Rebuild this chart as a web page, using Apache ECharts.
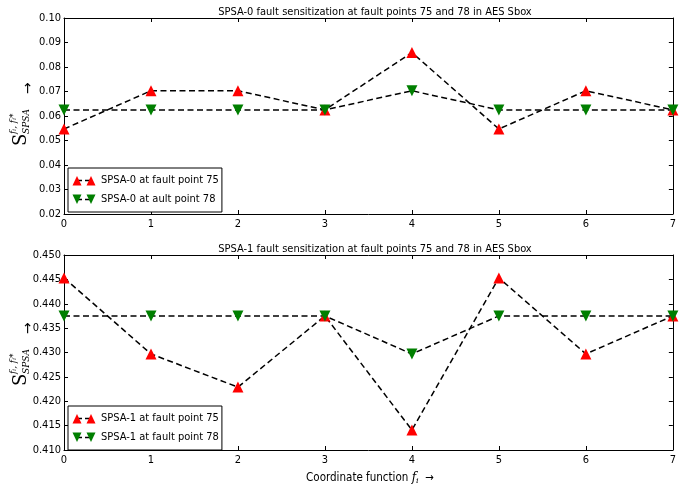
<!DOCTYPE html>
<html>
<head>
<meta charset="utf-8">
<script src="https://cdn.jsdelivr.net/npm/echarts@6/dist/echarts.min.js"></script>
<style>
  html, body { margin: 0; padding: 0; background: #fff; }
  #chart { width: 679px; height: 490px; }
</style>
</head>
<body>
<div id="chart"></div>
<script>
const font = '"DejaVu Sans Condensed", "DejaVu Sans", sans-serif'

// coordinate functions f_i
const coords = [0, 1, 2, 3, 4, 5, 6, 7]

// SPSA-0 (top plot)
const spsa0Fault75 = [0.0547, 0.0703, 0.0703, 0.0625, 0.0859, 0.0547, 0.0703, 0.0625]
const spsa0Fault78 = [0.0625, 0.0625, 0.0625, 0.0625, 0.0703, 0.0625, 0.0625, 0.0625]

// SPSA-1 (bottom plot)
const spsa1Fault75 = [0.4453, 0.4297, 0.4229, 0.4375, 0.4141, 0.4453, 0.4297, 0.4375]
const spsa1Fault78 = [0.4375, 0.4375, 0.4375, 0.4375, 0.4297, 0.4375, 0.4375, 0.4375]

const titles = [
  'SPSA-0 fault sensitization at fault points 75 and 78 in AES Sbox',
  'SPSA-1 fault sensitization at fault points 75 and 78 in AES Sbox'
]
const legendNames = [
  ['SPSA-0 at fault point 75', 'SPSA-0 at ault point 78'],
  ['SPSA-1 at fault point 75', 'SPSA-1 at fault point 78']
]

const pairs = vals => coords.map((x, i) => [x, vals[i]])

// legend key like matplotlib's: marker, dashed line, marker
function legendIcon(color, up) {
  const tri = cx => up
    ? `<polygon points='${cx - 4.5},10.5 ${cx},1 ${cx + 4.5},10.5' fill='${color}'/>`
    : `<polygon points='${cx - 4.5},0.5 ${cx},10 ${cx + 4.5},0.5' fill='${color}'/>`
  const svg = `<svg xmlns='http://www.w3.org/2000/svg' width='24' height='11'>` +
    `<line x1='5' y1='5.5' x2='19' y2='5.5' stroke='black' stroke-width='1.5' stroke-dasharray='5,3'/>` +
    tri(5) + tri(19) + `</svg>`
  return 'image://data:image/svg+xml;charset=utf-8,' + encodeURIComponent(svg)
}

const chart = echarts.init(document.getElementById('chart'))

const tick = { show: true, inside: true, length: 4, lineStyle: { color: '#000' } }
const line = { show: true, onZero: false, lineStyle: { color: '#000', width: 1 } }
const label = { color: '#000', fontSize: 11, fontFamily: font }

function xAxes(g) {
  return [
    {
      type: 'value', gridIndex: g, min: 0, max: 7, interval: 1, position: 'bottom',
      axisLine: line, axisTick: tick, splitLine: { show: false },
      axisLabel: Object.assign({ margin: 5 }, label)
    },
    {
      type: 'value', gridIndex: g, min: 0, max: 7, interval: 1, position: 'top',
      axisLine: line, axisTick: tick, splitLine: { show: false }, axisLabel: { show: false }
    }
  ]
}

function yAxes(g, min, max, step, digits) {
  return [
    {
      type: 'value', gridIndex: g, min: min, max: max, interval: step, position: 'left',
      axisLine: line, axisTick: tick, splitLine: { show: false },
      axisLabel: Object.assign({ margin: 3, formatter: v => v.toFixed(digits) }, label)
    },
    {
      type: 'value', gridIndex: g, min: min, max: max, interval: step, position: 'right',
      axisLine: line, axisTick: tick, splitLine: { show: false }, axisLabel: { show: false }
    }
  ]
}

function series(name, vals, xi, yi, color, up) {
  return {
    name: name, type: 'line', xAxisIndex: xi, yAxisIndex: yi,
    data: pairs(vals),
    symbol: 'triangle', symbolSize: 11, symbolRotate: up ? 0 : 180,
    itemStyle: { color: color, borderColor: color, borderWidth: 0 },
    lineStyle: { color: '#000', width: 1.5, type: [6, 3.5] },
    animation: false
  }
}

function legend(names, top) {
  return {
    data: [
      { name: names[0], icon: legendIcon('#ff0000', true) },
      { name: names[1], icon: legendIcon('#007f00', false) }
    ],
    orient: 'vertical', left: 68, top: top,
    itemWidth: 24, itemHeight: 11, itemGap: 8,
    padding: [7, 3, 7, 4],
    borderColor: '#000', borderWidth: 1, backgroundColor: '#fff',
    textStyle: { color: '#000', fontSize: 11, fontFamily: font }
  }
}

function yLabel(x, y) {
  return {
    type: 'group', x: x, y: y, rotation: Math.PI / 2,
    children: [
      { type: 'text', style: { text: 'S', x: 0, y: 0, font: '18px "DejaVu Serif", serif', fill: '#000', textVerticalAlign: 'middle' } },
      { type: 'text', style: { text: 'f\u1d62, f\u1d62*', x: 12, y: -7, font: 'italic 9px "DejaVu Serif", serif', fill: '#000', textVerticalAlign: 'middle' } },
      { type: 'text', style: { text: 'SPSA', x: 12, y: 6, font: 'italic 9px "DejaVu Serif", serif', fill: '#000', textVerticalAlign: 'middle' } },
      { type: 'text', style: { text: '\u2192', x: 52, y: 7, font: '14px "DejaVu Sans", sans-serif', fill: '#000', textVerticalAlign: 'middle' } }
    ]
  }
}

chart.setOption({
  backgroundColor: '#fff',
  animation: false,
  title: [
    { text: titles[0], left: 370, top: 2, textAlign: 'center', textStyle: { fontSize: 11, fontWeight: 'normal', color: '#000', fontFamily: font } },
    { text: titles[1], left: 370, top: 239, textAlign: 'center', textStyle: { fontSize: 11, fontWeight: 'normal', color: '#000', fontFamily: font } }
  ],
  grid: [
    { left: 64, right: 4, top: 18, height: 196 },
    { left: 64, right: 4, top: 255, height: 195 }
  ],
  xAxis: xAxes(0).concat(xAxes(1)),
  yAxis: yAxes(0, 0.02, 0.10, 0.01, 2).concat(yAxes(1, 0.410, 0.450, 0.005, 3)),
  legend: [legend(legendNames[0], 168), legend(legendNames[1], 406)],
  series: [
    series(legendNames[0][0], spsa0Fault75, 0, 0, '#ff0000', true),
    series(legendNames[0][1], spsa0Fault78, 0, 0, '#007f00', false),
    series(legendNames[1][0], spsa1Fault75, 2, 2, '#ff0000', true),
    series(legendNames[1][1], spsa1Fault78, 2, 2, '#007f00', false)
  ],
  graphic: [
    yLabel(21, 146),
    yLabel(21, 386),
    {
      type: 'text', x: 370, y: 478,
      style: {
        text: 'Coordinate function {f|f}{i|i}  \u2192',
        font: '11.5px ' + font, fill: '#000',
        textAlign: 'center', textVerticalAlign: 'middle',
        rich: {
          f: { fontStyle: 'italic', fontFamily: 'DejaVu Serif', fontSize: 12 },
          i: { fontStyle: 'italic', fontFamily: 'DejaVu Serif', fontSize: 8, padding: [6, 0, 0, 0] }
        }
      }
    }
  ]
})
</script>
</body>
</html>
